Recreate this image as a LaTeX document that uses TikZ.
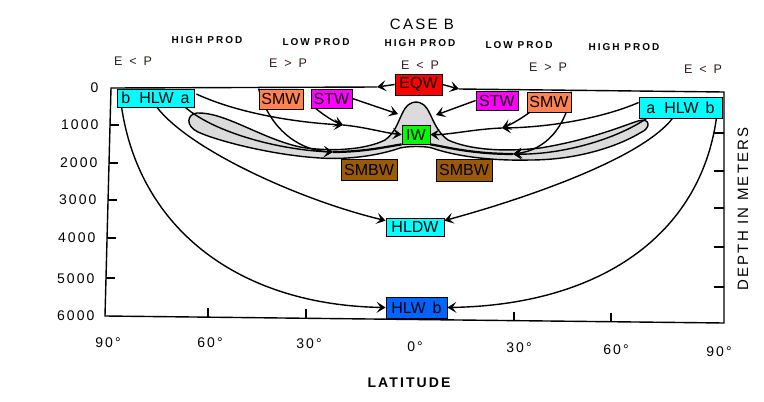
\documentclass[tikz,border=0pt]{standalone}
\usepackage{fontspec}
\setmainfont{Liberation Sans}
\newfontfamily\lsp[LetterSpace=15]{Liberation Sans}
\newfontfamily\hdr[LetterSpace=20]{Liberation Sans}
\usetikzlibrary{arrows.meta,calc}
\definecolor{cyanC}{RGB}{0,255,255}
\definecolor{orangeC}{RGB}{255,130,80}
\definecolor{magC}{RGB}{255,0,255}
\definecolor{redC}{RGB}{255,0,0}
\definecolor{greenC}{RGB}{0,255,0}
\definecolor{brownC}{RGB}{155,90,10}
\definecolor{blueC}{RGB}{0,100,255}
\definecolor{epC}{RGB}{58,26,26}
\pgfdeclarelayer{bg}
\pgfsetlayers{bg,main}
\tikzset{
  box/.style={draw=black, line width=0.8pt, inner sep=0pt, text=black,
    font=\fontsize{16}{16}\selectfont},
  arr/.style={-{Stealth[length=9pt,width=11pt,inset=4pt]}},
  curve/.style={line width=1.4pt, black},
  band/.style={line width=2.2pt, black},
  frame/.style={line width=1.4pt, black},
  tick/.style={line width=1.1pt, black},
  hd/.style={font=\hdr\bfseries\fontsize{10}{10}\selectfont},
  ep/.style={font=\fontsize{12.5}{12.5}\selectfont, text=epC},
  axl/.style={font=\lsp\fontsize{14}{14}\selectfont},
}
\begin{document}
\begin{tikzpicture}[x=1pt,y=-1pt]
\useasboundingbox (0,0) rectangle (764,402);

% ---------- boxes ----------
\node[box, fill=cyanC, minimum width=77pt, minimum height=18pt] (hlwL) at (155.5,98) {b\hspace{9pt}HLW\hspace{7pt}a};
\node[box, fill=orangeC, minimum width=44pt, minimum height=20pt] (smwL) at (281,99) {SMW};
\node[box, fill=magC, minimum width=41pt, minimum height=19pt] (stwL) at (331.5,98.5) {STW};
\node[box, fill=redC, minimum width=47pt, minimum height=21pt] (eqw) at (418.5,84.5) {EQW};
\node[box, fill=magC, minimum width=42pt, minimum height=19pt] (stwR) at (497,100.5) {STW};
\node[box, fill=orangeC, minimum width=44pt, minimum height=20pt] (smwR) at (549,102) {SMW};
\node[box, fill=cyanC, minimum width=83pt, minimum height=21pt] (hlwR) at (680.5,107.5) {a\hspace{9pt}HLW\hspace{7pt}b};
\node[box, fill=greenC, minimum width=28pt, minimum height=19pt] (iw) at (416,134.5) {IW};
\node[box, fill=brownC, minimum width=56pt, minimum height=21pt] (smbwL) at (369,169.5) {SMBW};
\node[box, fill=brownC, minimum width=56pt, minimum height=22pt] (smbwR) at (464,170) {SMBW};
\node[box, fill=cyanC, minimum width=58pt, minimum height=18pt] (hldw) at (415,227) {HLDW};
\node[box, fill=blueC, minimum width=61pt, minimum height=21pt] (hlwB) at (416.5,307.5) {HLW\hspace{7pt}b};

% ---------- free points ----------
\coordinate (eqL) at (377,87);
\coordinate (eqR) at (459,89);
\coordinate (iwTL) at (398,114);
\coordinate (iwTR) at (436,115);
\coordinate (pL1) at (343,125);
\coordinate (pR1) at (502,128);
\coordinate (pL2) at (333,152);
\coordinate (pR2) at (513,154);

\begin{pgfonlayer}{bg}
\fill[white] (0,0) rectangle (764,402);
% shaded water mass
\draw[curve, fill=black!14]
  (197,113) .. controls (225,112) and (260,138) .. (300,147)
  .. controls (330,152) and (365,150) .. (385,140)
  .. controls (395,133) and (398,122) .. (402,114)
  .. controls (406,105) and (411,102) .. (416,102)
  .. controls (421,102) and (426,105) .. (430,114)
  .. controls (434,122) and (438,133) .. (448,140)
  .. controls (470,150) and (505,152) .. (540,148)
  .. controls (590,140) and (625,125) .. (638,121)
  .. controls (650,117) and (652,128) .. (640,133)
  .. controls (620,145) and (580,160) .. (530,160)
  .. controls (490,161) and (455,156) .. (432,148)
  .. controls (425,146) and (408,146) .. (400,148)
  .. controls (380,155) and (350,160) .. (320,158)
  .. controls (270,155) and (215,140) .. (198,132)
  .. controls (185,126) and (187,114) .. (197,113) -- cycle;

% frame
\draw[frame] (eqL) -- (111,88) -- (105,316) -- (724,323) -- (724,92) -- (eqR);
\foreach \x/\y in {110.0/125,109.0/163,108.1/200,107.1/238,106.1/278}
  \draw[tick] (\x,\y) -- ++(9,0);
\foreach \y in {133,171,208,247,287}
  \draw[tick] (724,\y) -- ++(-10,0);
\foreach \x/\y in {208/317.2,306/318.3,411/319.5,514/320.6,611/321.7}
  \draw[tick] (\x,\y) -- ++(0,-9);

% surface outflow of EQW
\draw[curve,arr] (eqw.west) -- (eqL);
\draw[curve,arr] (eqw.east) -- (eqR);

% STW into IW
\draw[curve,arr] (stwL.east) -- (iwTL);
\draw[curve,arr] (stwR.west) -- (iwTR);

% long upper arcs
\draw[curve,arr] ($(hlwL.east)+(2,-4)$) .. controls (235,112) and (290,122) .. (pL1);
\draw[curve,arr] ($(stwL.south west)+(5,0)$) .. controls (325,116) and (333,121) .. (pL1);
\draw[curve,arr] (pL1) .. controls (365,127) and (385,133) .. (iw.west);
\draw[curve,arr] ($(hlwR.west)+(0,-5)$) .. controls (610,115) and (560,127) .. (pR1);
\draw[curve,arr] ($(smwR.south west)+(3,0)$) .. controls (522,118) and (512,124) .. (pR1);
\draw[curve,arr] (pR1) .. controls (475,129) and (448,135) .. (iw.east);

% SMW subduction
\draw[curve,arr] (smwL.north west) .. controls (268,125) and (295,150) .. (pL2);
\draw[curve,arr] (smwR.north east) .. controls (566,128) and (545,150) .. (pR2);

% through the loops
\draw[curve,arr] ($(hlwL.south east)+(-9,0)$) .. controls (215,133) and (280,150) .. (pL2);
\draw[curve,arr] ($(hlwR.south west)+(8,0)$) .. controls (615,140) and (560,155) .. (pR2);
\draw[band] (pL2) .. controls (365,152) and (390,146) .. (iw.south west);
\draw[band] (pR2) .. controls (470,154) and (442,146) .. (iw.south east);

% deep branches
\draw[curve,arr] ($(hlwL.south west)+(5,0)$) .. controls (140,230) and (240,305) .. (hlwB.west);
\draw[curve,arr] ($(hlwR.south east)+(-6,0)$) .. controls (700,235) and (600,305) .. (hlwB.east);
\draw[curve,arr] ($(hlwL.south)+(1.5,0)$) .. controls (190,150) and (300,200) .. ($(hldw.north west)+(0,3)$);
\draw[curve,arr] ($(hlwR.south)+(-8,0)$) .. controls (640,160) and (520,200) .. ($(hldw.north east)+(0,3)$);
\end{pgfonlayer}

% ---------- texts ----------
\node[font=\lsp\fontsize{15}{15}\selectfont] (caseb) at (422,24) {CASE B};
\node[hd] (hp1) at (207,40) {HIGH PROD};
\node[hd] (lp1) at (316,42) {LOW PROD};
\node[hd] (hp2) at (420,43) {HIGH PROD};
\node[hd] (lp2) at (519,45) {LOW PROD};
\node[hd] (hp3) at (624,47) {HIGH PROD};
\node[ep] (ep1) at (133,61) {E\hspace{7pt}<\hspace{7pt}P};
\node[ep] (ep2) at (288,63) {E\hspace{7pt}>\hspace{7pt}P};
\node[ep] (ep3) at (420,65) {E\hspace{7pt}<\hspace{7pt}P};
\node[ep] (ep4) at (548,67) {E\hspace{7pt}>\hspace{7pt}P};
\node[ep] (ep5) at (703,69) {E\hspace{7pt}<\hspace{7pt}P};

\node[axl, anchor=east] (d0) at (102,88) {0};
\node[axl, anchor=east] (d1) at (102,125) {1000};
\node[axl, anchor=east] (d2) at (101,163) {2000};
\node[axl, anchor=east] (d3) at (100,200) {3000};
\node[axl, anchor=east] (d4) at (99,238) {4000};
\node[axl, anchor=east] (d5) at (98,279) {5000};
\node[axl, anchor=east] (d6) at (98,316) {6000};

\node[axl] (l1) at (108,343) {90°};
\node[axl] (l2) at (210,343) {60°};
\node[axl] (l3) at (309,344) {30°};
\node[axl] (l4) at (415,347) {0°};
\node[axl] (l5) at (519,348) {30°};
\node[axl] (l6) at (616,350) {60°};
\node[axl] (l7) at (719,352) {90°};

\node[font=\lsp\bfseries\fontsize{14}{14}\selectfont] (lat) at (409,383) {LATITUDE};
\node[font=\lsp\fontsize{15}{15}\selectfont, rotate=90] (depth) at (743,209) {DEPTH IN METERS};
\end{tikzpicture}
\end{document}
